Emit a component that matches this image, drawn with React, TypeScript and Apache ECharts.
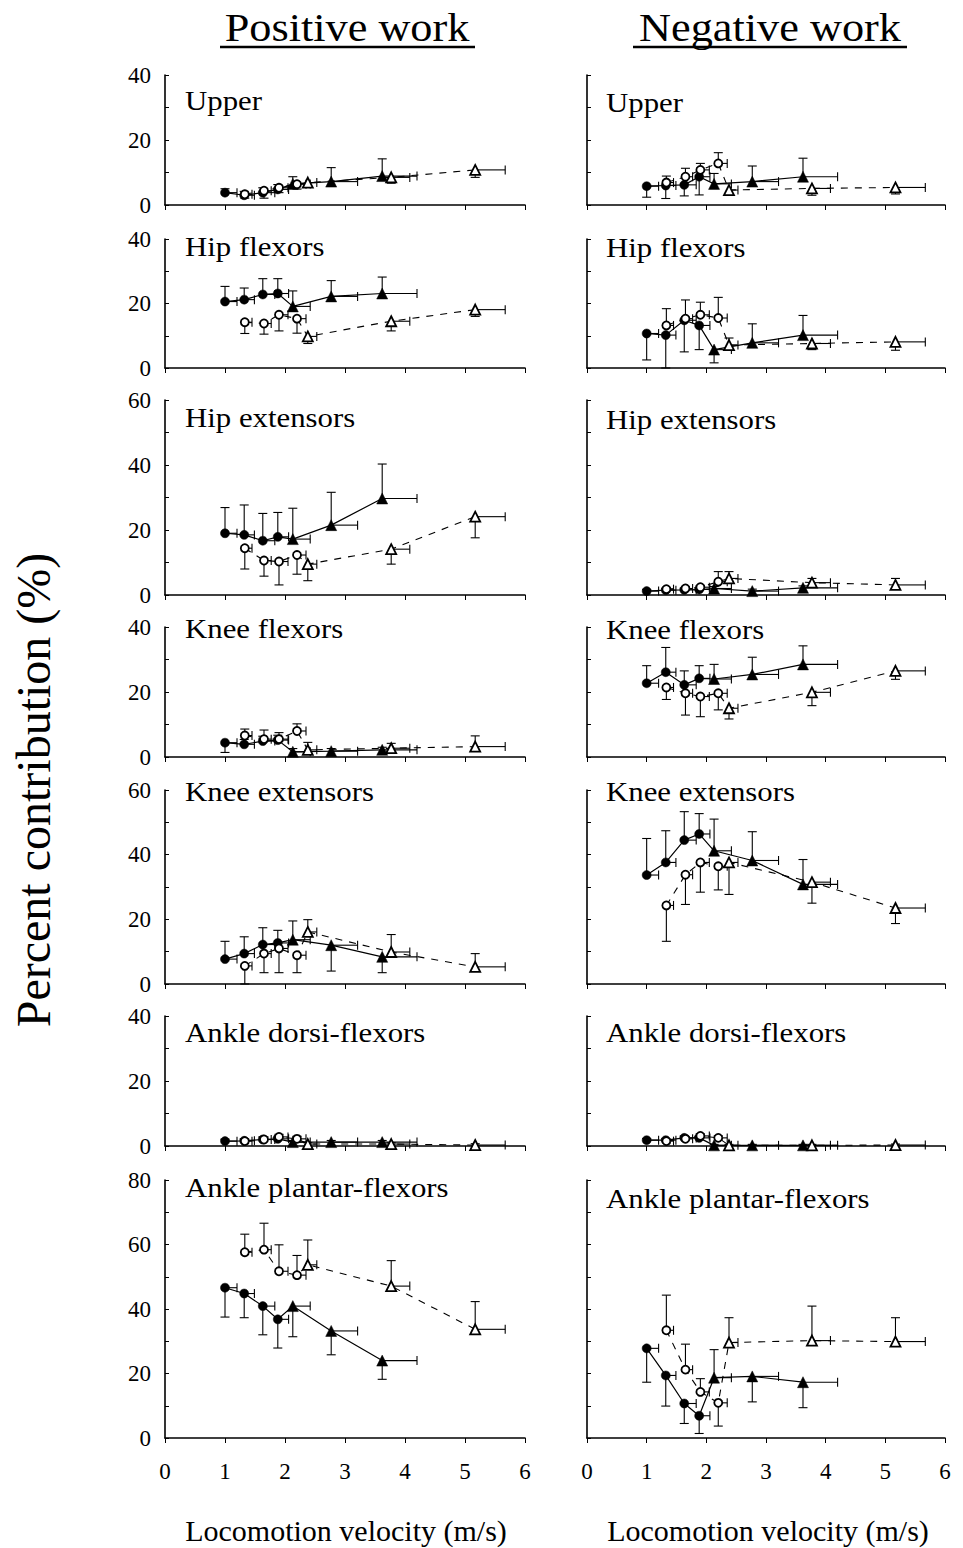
import React, { useEffect, useRef } from "react";
import * as echarts from "echarts";

// ---- velocities (m/s): 4 circles then 3 triangles ----
const filledX = [1.0, 1.32, 1.63, 1.88, 2.13, 2.77, 3.62];
const openX = [1.33, 1.65, 1.9, 2.2, 2.38, 3.77, 5.17];
const filledXErr = [0.2, 0.17, 0.2, 0.18, 0.29, 0.44, 0.58];
const openXErr = [0.12, 0.12, 0.15, 0.15, 0.15, 0.31, 0.5];

const panelNames = ["Upper", "Hip flexors", "Hip extensors", "Knee flexors", "Knee extensors", "Ankle dorsi-flexors", "Ankle plantar-flexors"];
const panelMax = [40, 40, 60, 40, 60, 40, 80];
const xTicks = [0, 1, 2, 3, 4, 5, 6];

// ---- Positive work (signed SD: + up, - down) ----
const posUpperFilled = [3.8, 3.0, 3.8, 4.8, 6.5, 7.2, 8.9];
const posUpperFilledErr = [1.2, 1.2, 1.5, 1.5, 2.2, 4.3, 5.3];
const posUpperOpen = [3.3, 4.4, 5.3, 6.4, 6.9, 8.5, 10.8];
const posUpperOpenErr = [-1.2, -2.3, -1.5, -1.5, -1.3, -1.8, -2.3];

const posHipFlexFilled = [20.6, 21.2, 22.8, 23.1, 19.1, 22.2, 23.1];
const posHipFlexFilledErr = [4.7, 3.6, 4.9, 4.6, 4.8, 4.9, 5.1];
const posHipFlexOpen = [14.2, 13.8, 16.5, 15.3, 9.8, 14.5, 18.1];
const posHipFlexOpenErr = [-3.5, -3.3, -5.0, -4.5, -2.2, -3.0, -2.1];

const posHipExtFilled = [19.0, 18.5, 16.7, 17.9, 17.2, 21.5, 29.7];
const posHipExtFilledErr = [7.9, 9.2, 8.4, 7.5, 9.5, 10.1, 10.6];
const posHipExtOpen = [14.4, 10.6, 10.3, 12.3, 9.5, 14.1, 24.1];
const posHipExtOpenErr = [-6.4, -4.8, -7.2, -5.9, -5.1, -4.6, -6.5];

const posKneeFlexFilled = [4.4, 3.9, 4.9, 5.2, 1.6, 1.8, 2.2];
const posKneeFlexFilledErr = [-3.0, 1.5, 1.5, 1.5, 1.0, 0.8, 0.8];
const posKneeFlexOpen = [6.6, 5.5, 5.5, 8.0, 2.2, 2.7, 3.2];
const posKneeFlexOpenErr = [2.0, 2.8, 2.0, 2.2, 2.3, 1.5, 3.3];

const posKneeExtFilled = [7.7, 9.4, 12.2, 12.7, 13.7, 12.0, 8.4];
const posKneeExtFilledErr = [5.5, 5.2, 5.2, 3.9, 5.8, -8.0, -4.9];
const posKneeExtOpen = [5.6, 9.4, 11.0, 8.9, 16.1, 9.9, 5.3];
const posKneeExtOpenErr = [-5.6, -5.9, -7.5, -5.4, 3.8, 5.4, 4.1];

const posAnkleDorsiFilled = [1.5, 1.6, 2.0, 2.2, 1.2, 1.2, 1.2];
const posAnkleDorsiFilledErr = [0.6, 0.6, 0.8, 0.8, 0.5, 0.5, 0.5];
const posAnkleDorsiOpen = [1.5, 2.0, 2.8, 2.2, 0.6, 0.6, 0.3];
const posAnkleDorsiOpenErr = [0.6, 0.8, 0.8, 0.8, 0.4, 0.4, 0.4];

const posAnklePlantFilled = [46.6, 44.8, 40.9, 36.8, 40.9, 33.2, 24.0];
const posAnklePlantFilledErr = [-9.1, -7.5, -8.9, -8.9, -9.5, -7.4, -5.8];
const posAnklePlantOpen = [57.6, 58.4, 51.7, 50.5, 53.7, 47.1, 33.7];
const posAnklePlantOpenErr = [5.6, 8.2, 8.2, 6.1, 7.7, 7.9, 8.6];

// ---- Negative work ----
const negUpperFilled = [5.8, 6.0, 6.2, 8.7, 6.5, 7.2, 8.7];
const negUpperFilledErr = [-3.4, -4.0, -3.4, -5.6, 3.2, 4.8, 5.7];
const negUpperOpen = [6.9, 8.7, 10.8, 12.8, 4.6, 5.1, 5.4];
const negUpperOpenErr = [2.0, 2.6, 2.0, 3.3, -1.5, -2.1, -2.0];

const negHipFlexFilled = [10.7, 10.2, 14.8, 13.2, 5.7, 7.8, 10.2];
const negHipFlexFilledErr = [-8.2, -10.2, -9.8, -7.5, -4.1, 5.9, 6.1];
const negHipFlexOpen = [13.2, 15.3, 16.5, 15.5, 7.1, 7.6, 8.1];
const negHipFlexOpenErr = [5.2, 5.8, 3.9, 6.4, 2.2, -1.9, -2.6];

const negHipExtFilled = [1.2, 1.5, 1.6, 1.7, 2.0, 1.2, 2.2];
const negHipExtFilledErr = [0.5, 0.5, 0.5, 0.5, 0.6, 0.6, 0.6];
const negHipExtOpen = [1.8, 2.0, 2.4, 4.1, 5.1, 3.8, 3.1];
const negHipExtOpenErr = [0.5, 0.5, 0.5, 3.1, 2.1, 1.3, 2.0];

const negKneeFlexFilled = [22.7, 26.1, 22.2, 24.2, 24.0, 25.4, 28.5];
const negKneeFlexFilledErr = [5.4, 7.6, 4.3, 3.9, 4.5, 5.3, 5.7];
const negKneeFlexOpen = [21.4, 19.6, 18.6, 19.6, 15.0, 19.9, 26.5];
const negKneeFlexOpenErr = [-3.7, -6.7, -6.2, -5.1, -3.3, -4.1, -2.6];

const negKneeExtFilled = [33.7, 37.6, 44.5, 46.4, 41.2, 38.2, 30.8];
const negKneeExtFilledErr = [11.3, 9.8, 8.8, 6.3, 9.8, 8.9, 7.7];
const negKneeExtOpen = [24.3, 33.8, 37.6, 36.4, 37.6, 31.5, 23.5];
const negKneeExtOpenErr = [-11.1, -9.2, -9.2, -7.3, -9.9, -6.5, -4.8];

const negAnkleDorsiFilled = [1.8, 1.8, 2.5, 2.5, 0.2, 0.2, 0.2];
const negAnkleDorsiFilledErr = [0.5, 0.5, 0.6, 0.6, 0.3, 0.3, 0.3];
const negAnkleDorsiOpen = [1.5, 2.2, 3.1, 2.5, 0.2, 0.2, 0.3];
const negAnkleDorsiOpenErr = [0.5, 0.6, 0.6, 0.6, 0.3, 0.3, 0.3];

const negAnklePlantFilled = [27.8, 19.4, 10.7, 6.9, 18.7, 19.1, 17.3];
const negAnklePlantFilledErr = [-10.5, -9.5, -6.2, -5.5, 8.7, -7.9, -7.9];
const negAnklePlantOpen = [33.4, 21.2, 14.3, 10.9, 29.6, 30.2, 29.9];
const negAnklePlantOpenErr = [10.9, 7.9, 4.1, -7.2, 7.7, 10.7, 7.4];

const posPanels = [
  [posUpperFilled, posUpperFilledErr, posUpperOpen, posUpperOpenErr],
  [posHipFlexFilled, posHipFlexFilledErr, posHipFlexOpen, posHipFlexOpenErr],
  [posHipExtFilled, posHipExtFilledErr, posHipExtOpen, posHipExtOpenErr],
  [posKneeFlexFilled, posKneeFlexFilledErr, posKneeFlexOpen, posKneeFlexOpenErr],
  [posKneeExtFilled, posKneeExtFilledErr, posKneeExtOpen, posKneeExtOpenErr],
  [posAnkleDorsiFilled, posAnkleDorsiFilledErr, posAnkleDorsiOpen, posAnkleDorsiOpenErr],
  [posAnklePlantFilled, posAnklePlantFilledErr, posAnklePlantOpen, posAnklePlantOpenErr],
];
const negPanels = [
  [negUpperFilled, negUpperFilledErr, negUpperOpen, negUpperOpenErr],
  [negHipFlexFilled, negHipFlexFilledErr, negHipFlexOpen, negHipFlexOpenErr],
  [negHipExtFilled, negHipExtFilledErr, negHipExtOpen, negHipExtOpenErr],
  [negKneeFlexFilled, negKneeFlexFilledErr, negKneeFlexOpen, negKneeFlexOpenErr],
  [negKneeExtFilled, negKneeExtFilledErr, negKneeExtOpen, negKneeExtOpenErr],
  [negAnkleDorsiFilled, negAnkleDorsiFilledErr, negAnkleDorsiOpen, negAnkleDorsiOpenErr],
  [negAnklePlantFilled, negAnklePlantFilledErr, negAnklePlantOpen, negAnklePlantOpenErr],
];

// ---- layout ----
const FONT = "'Liberation Serif', 'Times New Roman', serif";
const rowTop = [75, 239, 400, 627, 790, 1016, 1180];
const rowBottom = [205, 368, 595, 757, 984, 1146, 1438];
const colLeft = [165, 587];
const colWidth = [360, 358];
const labelY = [
  [100.5, 246.5, 417.5, 628.5, 791, 1032.5, 1187.5],
  [102, 247, 419, 629, 791, 1032.5, 1198],
];
const labelX = [185, 606];

const symFor = (i: number) => (i < 4 ? "circle" : "triangle");
const sizeFor = (i: number) => (i < 4 ? 9 : 11);

function buildOption() {
  const grid: any[] = [];
  const xAxis: any[] = [];
  const yAxis: any[] = [];
  const series: any[] = [];
  const graphic: any[] = [];

  for (let row = 0; row < 7; row++) {
    for (let col = 0; col < 2; col++) {
      const gi = row * 2 + col;
      const [fv, fe, ov, oe] = (col === 0 ? posPanels : negPanels)[row];
      grid.push({
        left: colLeft[col],
        width: colWidth[col],
        top: rowTop[row],
        height: rowBottom[row] - rowTop[row],
        containLabel: false,
      });
      xAxis.push({
        type: "value",
        gridIndex: gi,
        min: 0,
        max: 6,
        interval: 1,
        axisLine: { show: true, onZero: false, lineStyle: { color: "#000", width: 1.6 } },
        axisTick: { show: true, inside: false, length: 5, lineStyle: { color: "#000", width: 1 } },
        axisLabel: {
          show: row === 6,
          color: "#000",
          fontFamily: FONT,
          fontSize: 23,
          margin: 22,
          formatter: (v: number) => (xTicks.includes(v) ? String(v) : ""),
        },
        splitLine: { show: false },
      });
      yAxis.push({
        type: "value",
        gridIndex: gi,
        min: 0,
        max: panelMax[row],
        interval: 10,
        axisLine: { show: true, onZero: false, lineStyle: { color: "#000", width: 1.6 } },
        axisTick: { show: true, inside: true, length: 4, lineStyle: { color: "#000", width: 1 } },
        axisLabel: {
          show: col === 0,
          color: "#000",
          fontFamily: FONT,
          fontSize: 23,
          margin: 14,
          formatter: (v: number) => (v % 20 === 0 ? String(v) : ""),
        },
        splitLine: { show: false },
      });

      const errData: any[] = [];
      fv.forEach((v, i) => errData.push([filledX[i], v, fe[i], filledXErr[i]]));
      ov.forEach((v, i) => errData.push([openX[i], v, oe[i], openXErr[i]]));

      series.push({
        type: "custom",
        xAxisIndex: gi,
        yAxisIndex: gi,
        clip: false,
        z: 1,
        encode: { x: 0, y: 1 },
        data: errData,
        renderItem: (params: any, api: any) => {
          const x = api.value(0);
          const y = api.value(1);
          const ey = api.value(2);
          const ex = api.value(3);
          const p = api.coord([x, y]);
          const st = { stroke: "#000", lineWidth: 1.1, fill: "none" };
          const children: any[] = [];
          if (ey) {
            const q = api.coord([x, y + ey]);
            children.push({ type: "line", shape: { x1: p[0], y1: p[1], x2: q[0], y2: q[1] }, style: st });
            children.push({ type: "line", shape: { x1: q[0] - 4.5, y1: q[1], x2: q[0] + 4.5, y2: q[1] }, style: st });
          }
          if (ex) {
            const r = api.coord([x + ex, y]);
            children.push({ type: "line", shape: { x1: p[0], y1: p[1], x2: r[0], y2: r[1] }, style: st });
            children.push({ type: "line", shape: { x1: r[0], y1: r[1] - 4.5, x2: r[0], y2: r[1] + 4.5 }, style: st });
          }
          return { type: "group", children };
        },
      });

      series.push({
        type: "line",
        xAxisIndex: gi,
        yAxisIndex: gi,
        z: 2,
        showAllSymbol: true,
        lineStyle: { color: "#000", width: 1.2, type: "solid" },
        itemStyle: { color: "#000", borderColor: "#000", borderWidth: 0.5 },
        data: fv.map((v, i) => ({ value: [filledX[i], v], symbol: symFor(i), symbolSize: sizeFor(i) })),
      });
      series.push({
        type: "line",
        xAxisIndex: gi,
        yAxisIndex: gi,
        z: 3,
        showAllSymbol: true,
        lineStyle: { color: "#000", width: 1.1, type: [7, 7] },
        itemStyle: { color: "#fff", borderColor: "#000", borderWidth: 1.8 },
        data: ov.map((v, i) => ({ value: [openX[i], v], symbol: symFor(i), symbolSize: i < 4 ? 8 : 10 })),
      });

      graphic.push({
        type: "text",
        x: labelX[col],
        y: labelY[col][row],
        scaleX: 1.1,
        style: {
          text: panelNames[row],
          fontFamily: FONT,
          fontSize: 28,
          fill: "#000",
          textAlign: "left",
          textVerticalAlign: "middle",
        },
      });
    }
  }

  // column titles with underlines
  const titles = [
    { text: "Positive work", cx: 347, x1: 220, x2: 475 },
    { text: "Negative work", cx: 770, x1: 633, x2: 907 },
  ];
  titles.forEach((t) => {
    graphic.push({
      type: "text",
      x: t.cx,
      y: 27,
      scaleX: 1.08,
      style: { text: t.text, fontFamily: FONT, fontSize: 41, fill: "#000", textAlign: "center", textVerticalAlign: "middle" },
    });
    graphic.push({
      type: "line",
      shape: { x1: t.x1, y1: 47, x2: t.x2, y2: 47 },
      style: { stroke: "#000", lineWidth: 2.5 },
    });
  });

  // y axis title
  graphic.push({
    type: "text",
    x: 33,
    y: 790,
    rotation: Math.PI / 2,
    style: {
      text: "Percent contribution (%)",
      fontFamily: FONT,
      fontSize: 48,
      fill: "#000",
      textAlign: "center",
      textVerticalAlign: "middle",
    },
  });

  // x axis titles
  [346, 768].forEach((cx) => {
    graphic.push({
      type: "text",
      x: cx,
      y: 1530,
      style: {
        text: "Locomotion velocity (m/s)",
        fontFamily: FONT,
        fontSize: 30,
        fill: "#000",
        textAlign: "center",
        textVerticalAlign: "middle",
      },
    });
  });

  return {
    animation: false,
    backgroundColor: "#fff",
    grid,
    xAxis,
    yAxis,
    series,
    graphic,
  };
}

export default function App() {
  const ref = useRef<HTMLDivElement>(null);
  useEffect(() => {
    if (!ref.current) return;
    const chart = echarts.init(ref.current, undefined, { renderer: "svg" });
    chart.setOption(buildOption() as any);
    return () => chart.dispose();
  }, []);
  return (
    <div
      ref={ref}
      style={{ position: "absolute", left: 0, top: 0, width: 963, height: 1548, background: "#fff" }}
    />
  );
}
